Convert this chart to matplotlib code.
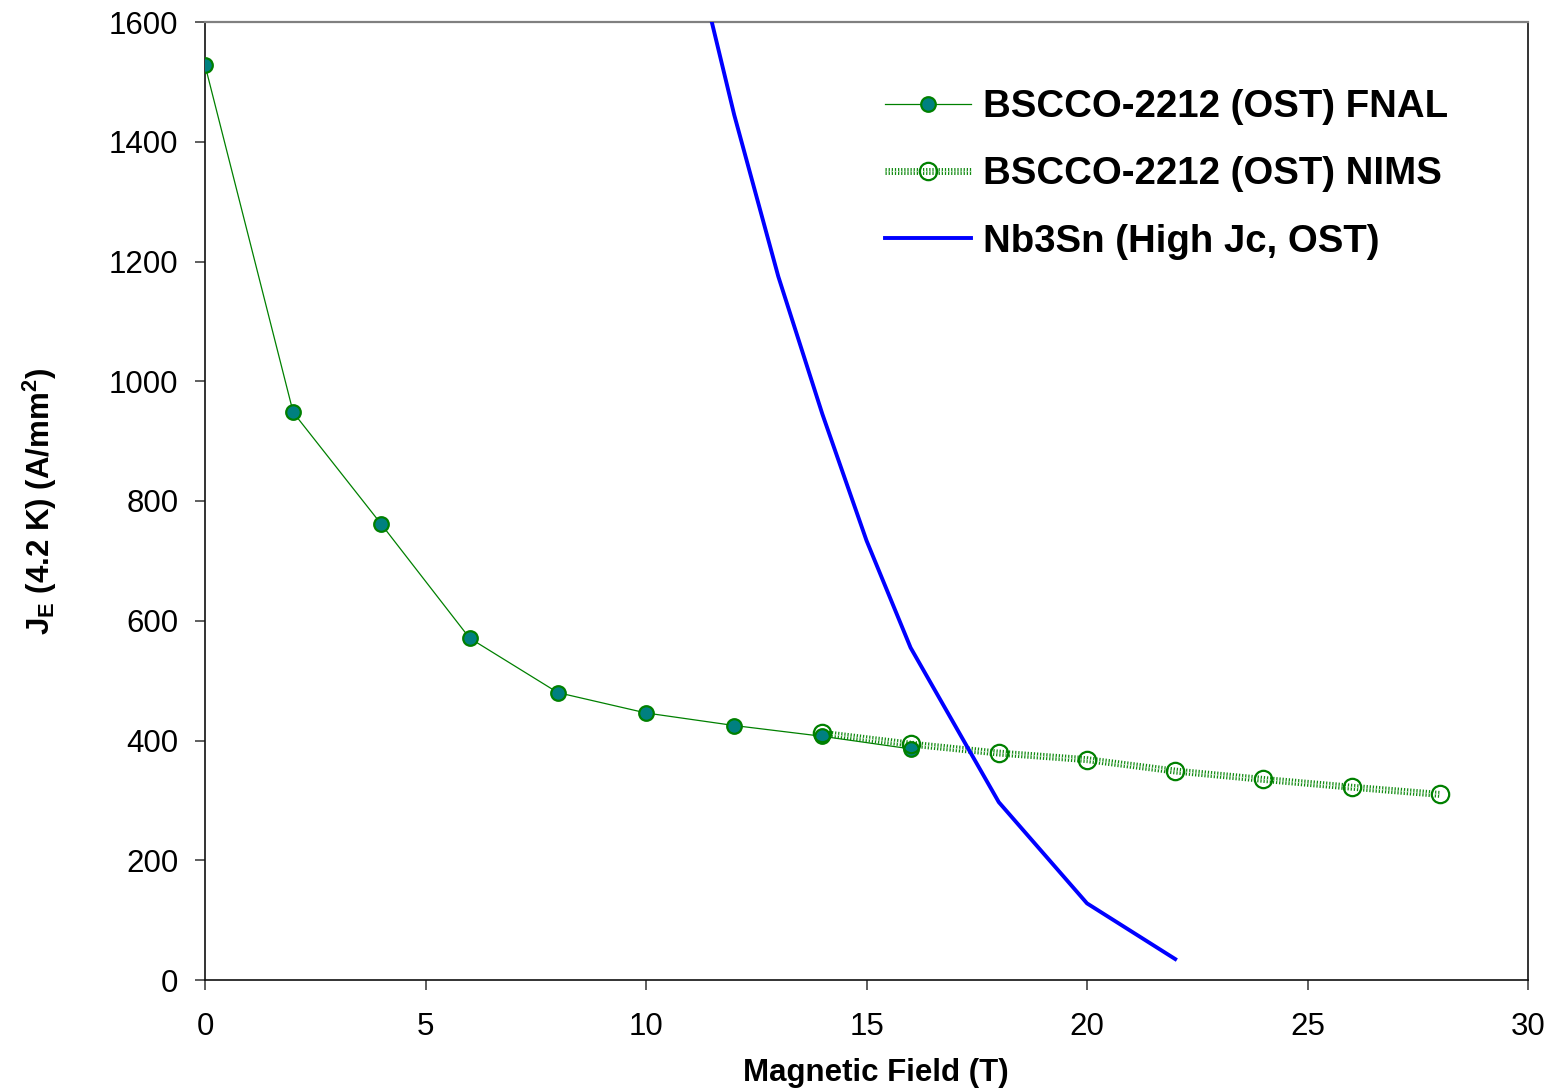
import numpy as np
import matplotlib
matplotlib.use("Agg")
import matplotlib.pyplot as plt
import matplotlib.patheffects as pe

plt.rcParams['font.family'] = ['Liberation Sans', 'DejaVu Sans']
plt.rcParams['mathtext.fontset'] = 'custom'
plt.rcParams['mathtext.rm'] = 'Liberation Sans'
plt.rcParams['mathtext.bf'] = 'Liberation Sans:bold'

# BSCCO-2212 wire measured at FNAL
fnal_field = [0, 2, 4, 6, 8, 10, 12, 14, 16]
fnal_je = [1528, 948, 761, 571, 480, 446, 425, 407, 386]

# BSCCO-2212 wire measured at NIMS
nims_field = [14, 16, 18, 20, 22, 24, 26, 28]
nims_je = [412, 394, 379, 368, 349, 335, 322, 310]

# Nb3Sn high Jc strand
nb3sn_field = [11, 12, 13, 14, 15, 16, 18, 20, 22]
nb3sn_je = [1750, 1445, 1175, 945, 734, 555, 297, 128, 35]

fig = plt.figure(figsize=(15.56, 10.91), dpi=100)
ax = fig.add_axes([205 / 1556, 1 - 980 / 1091, 1323 / 1556, 958 / 1091])

fnal, = ax.plot(fnal_field, fnal_je, color='#008000', lw=0.9, marker='o',
                markersize=10.5, markerfacecolor='#008080',
                markeredgecolor='#008000', markeredgewidth=1.6, zorder=4,
                label='BSCCO-2212 (OST) FNAL')

# thick hatched-looking line for NIMS: green stroke with light dots on top
nims_line, = ax.plot(nims_field, nims_je, color='#9fd49f', lw=0.9,
                     linestyle=(0, (1, 1.5)), zorder=3,
                     path_effects=[pe.Stroke(linewidth=5, foreground='#118a11'),
                                   pe.Normal()])
nims_marks, = ax.plot(nims_field, nims_je, linestyle='none', marker='o',
                      markersize=12.5, markerfacecolor='none',
                      markeredgecolor='#008000', markeredgewidth=1.6, zorder=5)

nb3sn, = ax.plot(nb3sn_field, nb3sn_je, color='#0000ff', lw=2.8, zorder=3,
                 label='Nb3Sn (High Jc, OST)')

ax.set_xlim(0, 30)
ax.set_ylim(0, 1600)
ax.set_xticks(np.arange(0, 31, 5))
ax.set_yticks(np.arange(0, 1601, 200))

ax.tick_params(axis='both', direction='out', length=7, width=1.1,
               labelsize=22.5, color='#333333')
ax.tick_params(axis='y', pad=12)
ax.tick_params(axis='x', pad=16)

for side in ['left', 'bottom', 'right']:
    ax.spines[side].set_color('#111111')
    ax.spines[side].set_linewidth(1.2)
ax.spines['top'].set_color('#808080')
ax.spines['top'].set_linewidth(1.6)

ax.set_xlabel('Magnetic Field (T)', fontsize=22.5, fontweight='bold')
ax.xaxis.set_label_coords(0.507, -0.081)
ax.set_ylabel(r'J$_{\mathbf{E}}$ (4.2 K) (A/mm$^{\mathbf{2}}$)',
              fontsize=22.5, fontweight='bold', labelpad=36)

ax.legend([fnal, (nims_line, nims_marks), nb3sn],
          ['BSCCO-2212 (OST) FNAL', 'BSCCO-2212 (OST) NIMS',
           'Nb3Sn (High Jc, OST)'],
          loc='upper left', bbox_to_anchor=(885 / 1556, 1 - 89 / 1091),
          bbox_transform=fig.transFigure, frameon=False,
          prop={'size': 27.6, 'weight': 'bold'}, handlelength=2.25,
          handletextpad=0.3, labelspacing=0.82, borderpad=0,
          borderaxespad=0)

fig.savefig('out.png', dpi=100)
